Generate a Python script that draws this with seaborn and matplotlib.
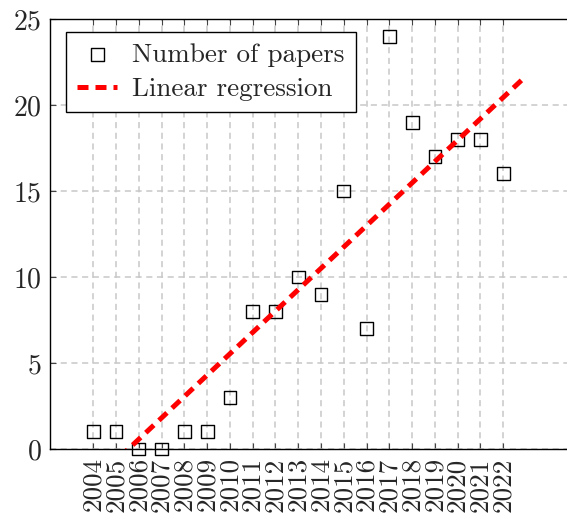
import numpy as np
import pandas as pd
import matplotlib
matplotlib.use("Agg")
import matplotlib.pyplot as plt
import seaborn as sns

years = list(range(2004, 2023))
papers = [1, 1, 0, 0, 1, 1, 3, 8, 8, 10, 9, 15, 7, 24, 19, 17, 18, 18, 16]
tick_labels = [str(y) for y in years]

sns.set_style("ticks")
plt.rcParams["font.family"] = ["cmr10", "DejaVu Serif"]
plt.rcParams["axes.formatter.use_mathtext"] = True
plt.rcParams["font.size"] = 20

df = pd.DataFrame({"year": years, "papers": papers})
slope, intercept = np.polyfit(df["year"], df["papers"], 1)
reg_x = np.linspace(2004, 2023, 200)
reg = pd.DataFrame({"year": reg_x, "fit": slope * reg_x + intercept})

fig = plt.figure(figsize=(5.67, 5.13), dpi=100)
ax = fig.add_axes([50 / 567, 1 - 449 / 513, 517 / 567, 430 / 513])

ax.grid(True, linestyle=(0, (4, 3)), color="#c8c8c8", linewidth=1.1, zorder=0)
ax.set_axisbelow(True)

sns.scatterplot(data=df, x="year", y="papers", marker="s", s=85,
                facecolor="none", edgecolor="black", linewidth=1.0,
                label="Number of papers", ax=ax, zorder=3, clip_on=False)
sns.lineplot(data=reg, x="year", y="fit", color="red", linewidth=3.6,
             linestyle=(0, (2.2, 1.4)), label="Linear regression", ax=ax, zorder=4)

ax.set_xlim(2002.1, 2024.8)
ax.set_ylim(0, 25)
ax.set_xticks(years)
ax.set_xticklabels(tick_labels, rotation=90)
ax.set_yticks([0, 5, 10, 15, 20, 25])
ax.set_xlabel("")
ax.set_ylabel("")
ax.tick_params(axis="x", direction="in", length=4, width=0.8, pad=6,
               top=True, bottom=True, color="#444444", labelsize=19.5)
ax.tick_params(axis="y", direction="in", length=4, width=0.8, pad=6,
               left=True, right=False, color="#444444", labelsize=20)
for side in ["left", "bottom", "top"]:
    ax.spines[side].set_visible(True)
    ax.spines[side].set_color("black")
    ax.spines[side].set_linewidth(1.0)
ax.spines["right"].set_visible(False)

leg = ax.legend(loc="upper left", bbox_to_anchor=(0.031, 0.97), borderaxespad=0,
                frameon=True, fancybox=False, edgecolor="black", framealpha=1,
                handlelength=1.5, handletextpad=0.55, borderpad=0.4,
                labelspacing=0.4, fontsize=19.5)
leg.get_frame().set_linewidth(1.0)

fig.savefig("out.png", dpi=100)
